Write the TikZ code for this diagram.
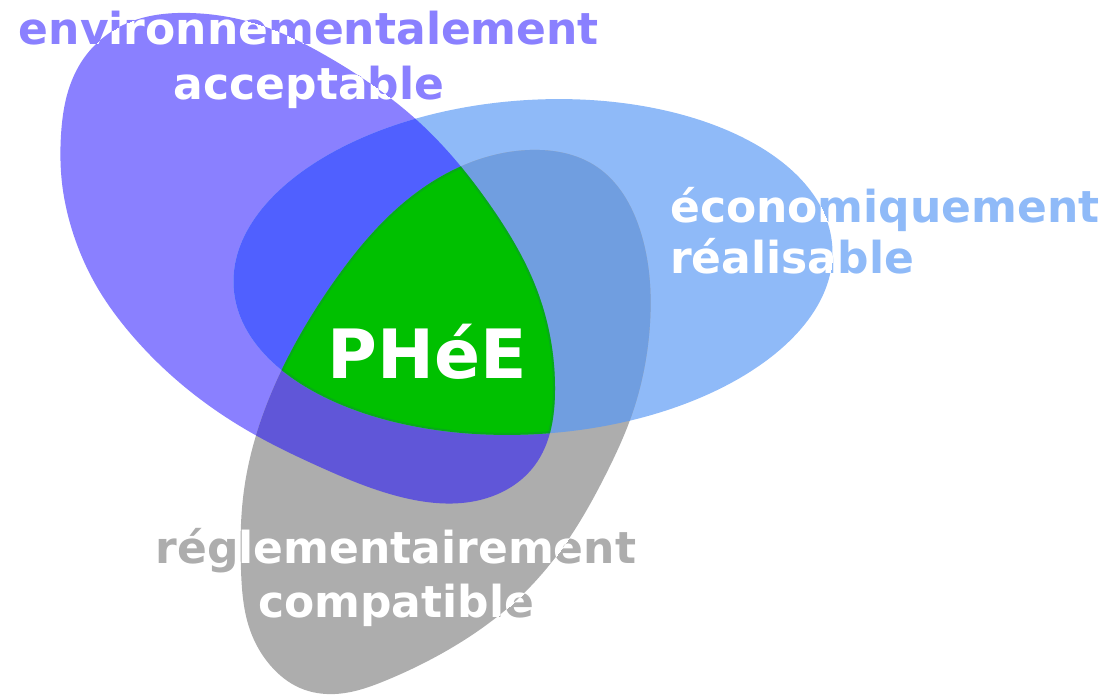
\documentclass[tikz,border=0pt]{standalone}
\usepackage{fontspec}
\setmainfont{DejaVu Sans}
\usetikzlibrary{hobby}
\definecolor{envcol}{RGB}{138,128,255}
\definecolor{ecocol}{RGB}{143,186,248}
\definecolor{regcol}{RGB}{173,173,173}
\definecolor{envecocol}{RGB}{80,96,255}
\definecolor{envregcol}{RGB}{96,86,216}
\definecolor{ecoregcol}{RGB}{112,158,224}
\definecolor{corecol}{RGB}{0,192,0}
\definecolor{rimcol}{RGB}{20,130,70}
\begin{document}
\begin{tikzpicture}[x=1pt,y=-1pt,
  lbl/.style={inner sep=0pt, font=\fontsize{44}{50}\selectfont\bfseries},
  corelbl/.style={inner sep=0pt, anchor=base, text=white,
    font=\fontsize{68}{72}\selectfont\bfseries},
  rim/.style={draw=rimcol, line width=4pt, opacity=0.35}]
\useasboundingbox (0,0) rectangle (1111,695);

% outlines of the three sets
\def\envshape{plot[closed hobby] coordinates {
  (84,58) (130,22) (190,13) (260,25) (330,58) (420,123) (490,205)
  (537,290) (555,390) (535,465) (480,500) (405,498) (320,467) (250,432)
  (180,383) (130,333) (97,287) (73,233) (62,183) (61,135) (67,95)}}
\def\ecoshape{[rotate around={4:(533,267)}] (533,267) ellipse [x radius=300, y radius=167]}
\def\regshape{plot[closed hobby] coordinates {
  (530,150) (597,167) (640,230) (650,323) (630,420) (607,472) (570,537)
  (520,597) (453,647) (387,680) (335,694) (300,688) (270,665) (250,630)
  (241,570) (244,490) (277,380) (333,283) (420,190)}}

% single sets
\fill[envcol] \envshape;
\fill[ecocol] \ecoshape;
\fill[regcol] \regshape;
% pairwise overlaps
\begin{scope}
  \clip \envshape;
  \fill[envecocol] \ecoshape;
  \fill[envregcol] \regshape;
\end{scope}
\begin{scope}
  \clip \ecoshape;
  \fill[ecoregcol] \regshape;
\end{scope}
% common core with a soft darker rim
\begin{scope}
  \clip \envshape;
  \clip \ecoshape;
  \clip \regshape;
  \fill[corecol] (0,0) rectangle (1111,695);
  \draw[rim] \envshape;
  \draw[rim] \ecoshape;
  \draw[rim] \regshape;
\end{scope}

% labels: coloured on the background, white where they lie on their set
\node[lbl, anchor=base, text=envcol] (env1) at (309,45) {environnementalement};
\node[lbl, anchor=base, text=envcol] (env2) at (309,100) {acceptable};
\begin{scope}
  \clip \envshape;
  \node[lbl, anchor=base, text=white] (env1w) at (309,45) {environnementalement};
  \node[lbl, anchor=base, text=white] (env2w) at (309,100) {acceptable};
\end{scope}

\node[lbl, anchor=base west, text=ecocol] (eco1) at (670,223) {économiquement};
\node[lbl, anchor=base west, text=ecocol] (eco2) at (670,273) {réalisable};
\begin{scope}
  \clip \ecoshape;
  \node[lbl, anchor=base west, text=white] (eco1w) at (670,223) {économiquement};
  \node[lbl, anchor=base west, text=white] (eco2w) at (670,273) {réalisable};
\end{scope}

\node[lbl, anchor=base, text=regcol] (reg1) at (396,563) {réglementairement};
\node[lbl, anchor=base, text=regcol] (reg2) at (396,617) {compatible};
\begin{scope}
  \clip \regshape;
  \node[lbl, anchor=base, text=white] (reg1w) at (396,563) {réglementairement};
  \node[lbl, anchor=base, text=white] (reg2w) at (396,617) {compatible};
\end{scope}

\node[corelbl] (core) at (427,378) {PHéE};
\end{tikzpicture}
\end{document}
